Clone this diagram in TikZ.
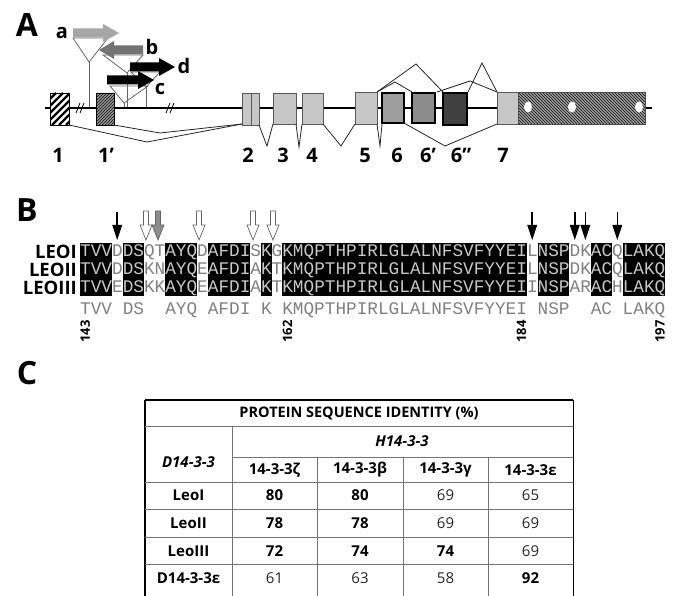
\documentclass[tikz,border=0pt]{standalone}
\usepackage{fontspec}
\setmainfont{Open Sans}
\newfontfamily\seqfont{Liberation Mono}
\colorlet{inbox}{black!22}
\colorlet{outbox}{black!50}
\colorlet{exlight}{black!22}
\newcommand\Ib[1]{\textcolor{inbox}{#1}}
\newcommand\Ob[1]{\textcolor{outbox}{#1}}
\newcommand\blnk{\phantom{X}}
\begin{document}
\begin{tikzpicture}[x=1pt,y=-1pt,
  panel/.style={font=\bfseries\fontsize{32}{32}\selectfont, inner sep=0},
  lbl/.style={font=\bfseries\fontsize{20}{20}\selectfont, inner sep=0},
  exonL/.style={draw=black!65, fill=exlight, line width=0.7pt},
  exonD/.style={draw=black, line width=1.6pt},
  splice/.style={draw=black!85, line width=0.8pt},
  stalk/.style={draw=black!60, line width=0.8pt},
  seqrow/.style={font=\seqfont\fontsize{17.73}{17.73}\selectfont, inner sep=0, anchor=base west},
  rowlbl/.style={font=\bfseries\fontsize{18.5}{18.5}\selectfont, inner sep=0, anchor=east},
  posnum/.style={font=\bfseries\fontsize{13}{13}\selectfont, inner sep=0, rotate=90, anchor=east},
  blackarr/.style={fill=black},
  openarr/.style={draw=black!60, line width=0.7pt, fill=white},
  tline/.style={draw=black!55, line width=0.8pt},
  tcell/.style={font=\fontsize{15}{15}\selectfont, inner sep=0, text=black!85},
  tbold/.style={font=\bfseries\fontsize{15}{15}\selectfont, inner sep=0}
]
\useasboundingbox (0,0) rectangle (678,596);

%%%%%%%%%%%%%%%% Panel A
\node[panel] (pA) at (27,25) {A};

% main line
\draw[line width=2.6pt] (45,108) -- (96,108);
\draw[line width=1.5pt] (114,108) -- (192,108);
\draw[line width=2.6pt] (192,108) -- (652,108);
% breaks
\draw[line width=0.8pt] (76,113) -- (80,103) (80,113) -- (84,103);
\draw[line width=0.8pt] (166,113) -- (170,103) (170,113) -- (174,103);

% exon 1 (coarse hatch)
\begin{scope}
  \clip (50,93) rectangle (69,125);
  \fill[white] (50,93) rectangle (69,125);
  \foreach \k in {-40,-33,...,30} \draw[line width=2.4pt] (50+\k,125) -- (82+\k,93);
\end{scope}
\draw[line width=0.7pt] (50,93) rectangle (69,125);

% exon 1' (fine hatch)
\begin{scope}
  \clip (96,93) rectangle (114,125);
  \fill[black!35] (96,93) rectangle (114,125);
  \foreach \k in {-36,-33,...,20} \draw[line width=0.9pt, black!85] (96+\k,125) -- (128+\k,93);
\end{scope}
\draw[line width=0.7pt] (96,93) rectangle (114,125);

% light exons
\draw[exonL] (242,93) rectangle (259,125);
\draw[exonL] (251,93) -- (251,125);
\draw[exonL] (273,93) rectangle (296,124);
\draw[exonL] (302,93) rectangle (323,124);
\draw[exonL] (355,92) rectangle (377,124);
\draw[exonL] (497,92) rectangle (518,124);
% dark exons
\draw[exonD, fill=black!38] (382,93) rectangle (404,123);
\draw[exonD, fill=black!45] (412,93) rectangle (435,123);
\draw[exonD, fill=black!75] (443,93) rectangle (467,125);

% 3' UTR
\begin{scope}
  \clip (518,92) rectangle (645,124);
  \fill[black!30] (518,92) rectangle (645,124);
  \foreach \k in {-36,-33,...,130} \draw[line width=0.9pt, black!85] (518+\k,92) -- (550+\k,124);
\end{scope}
\draw[line width=0.7pt, black!70] (518,92) rectangle (645,124);
\fill[white] (528,107) ellipse [x radius=4, y radius=5.5];
\fill[white] (572,107) ellipse [x radius=4, y radius=5.5];
\fill[white] (639,107) ellipse [x radius=4, y radius=5.5];

% splicing
\draw[splice] (69,125) -- (147,142) -- (242,124);
\draw[splice] (114,125) -- (160,133) -- (242,124);
\draw[splice] (259,125) -- (267,146) -- (273,124);
\draw[splice] (296,124) -- (299,147) -- (302,124);
\draw[splice] (323,124) -- (341,146) -- (355,124);
\draw[splice] (377,124) -- (380,146) -- (382,124);
\draw[splice] (404,123) -- (445,146) -- (497,124);
\draw[splice] (377,92) -- (416,64) -- (443,92);
\draw[splice] (377,92) -- (395,82) -- (412,92);
\draw[splice] (437,92) -- (470,81) -- (497,92);
\draw[splice] (468,92) -- (482,63) -- (497,92);

% promoters: triangles and stalks
\draw[stalk] (73,38) -- (108,38) -- (89,62) -- cycle;
\draw[stalk] (89,62) -- (89,107);
\draw[stalk] (103,55) -- (143,55) -- (127,73) -- cycle;
\draw[stalk] (127,73) -- (127,107);
\draw[stalk] (131,72) -- (160,72) -- (146,87) -- cycle;
\draw[stalk] (146,87) -- (146,107);
\draw[stalk] (110,86) -- (148,86) -- (124,103) -- cycle;
\draw[stalk] (124,103) -- (124,107);

% promoter arrows
\fill[black!35] (73,28.5) -- (103,28.5) -- (103,24) -- (119,33) -- (103,42) -- (103,37.5) -- (73,37.5) -- cycle;
\fill[black!55] (143,45.5) -- (114,45.5) -- (114,41) -- (99,50) -- (114,59) -- (114,54.5) -- (143,54.5) -- cycle;
\fill[black] (130,62.5) -- (159,62.5) -- (159,58) -- (175,67) -- (159,76) -- (159,71.5) -- (130,71.5) -- cycle;
\fill[black] (107,75.5) -- (138,75.5) -- (138,71) -- (154,80) -- (138,89) -- (138,84.5) -- (107,84.5) -- cycle;

\node[lbl] (la) at (62,33) {a};
\node[lbl] (lb) at (152,47) {b};
\node[lbl] (ld) at (184,66) {d};
\node[lbl] (lc) at (160,89) {c};

% exon labels
\node[lbl] (e1) at (58,155) {1};
\node[lbl] (e1p) at (106,155) {1’};
\node[lbl] (e2) at (248,155) {2};
\node[lbl] (e3) at (283,155) {3};
\node[lbl] (e4) at (312,155) {4};
\node[lbl] (e5) at (365,155) {5};
\node[lbl] (e6) at (397,155) {6};
\node[lbl] (e6p) at (428,155) {6’};
\node[lbl] (e6pp) at (461,155) {6”};
\node[lbl] (e7) at (503,155) {7};

%%%%%%%%%%%%%%%% Panel B
\node[panel] (pB) at (27,210) {B};

% conserved blocks
\foreach \a/\b in {1/3,5/6,9/11,13/16,18/18,20/42,44/46,49/50,52/55}
  \fill[black] ({80+(\a-1)*10.64},243) rectangle ({80+\b*10.64},296);

% marker arrows
\foreach \p in {4,43,47,48,51} {
  \draw[line width=1.5pt] ({80+(\p-0.5)*10.64},212) -- ({80+(\p-0.5)*10.64},228);
  \fill[blackarr] ({80+(\p-0.5)*10.64-5},225) -- ({80+(\p-0.5)*10.64+5},225) -- ({80+(\p-0.5)*10.64},240) -- cycle;
}
\foreach \x/\f in {146/white,158/black!45,199/white,253/white,273/white}
  \draw[openarr, fill=\f] ({\x-2.5},211) -- ({\x+2.5},211) -- ({\x+2.5},225) -- ({\x+6},225) -- (\x,240) -- ({\x-6},225) -- ({\x-2.5},225) -- cycle;

% row labels
\node[rowlbl] (r1) at (77,252) {LEOI};
\node[rowlbl] (r2) at (77,270) {LEOII};
\node[rowlbl] (r3) at (77,287.5) {LEOIII};

% sequences
\node[seqrow] (s1) at (80,257) {\Ib{TVV}\Ob{D}\Ib{DS}\Ob{QT}\Ib{AYQ}\Ob{D}\Ib{AFDI}\Ob{S}\Ib{K}\Ob{G}\Ib{KMQPTHPIRLGLALNFSVFYYEI}\Ob{L}\Ib{NSP}\Ob{DK}\Ib{AC}\Ob{Q}\Ib{LAKQ}};
\node[seqrow] (s2) at (80,275) {\Ib{TVV}\Ob{D}\Ib{DS}\Ob{KN}\Ib{AYQ}\Ob{E}\Ib{AFDI}\Ob{A}\Ib{K}\Ob{T}\Ib{KMQPTHPIRLGLALNFSVFYYEI}\Ob{L}\Ib{NSP}\Ob{DK}\Ib{AC}\Ob{Q}\Ib{LAKQ}};
\node[seqrow] (s3) at (80,292.5) {\Ib{TVV}\Ob{E}\Ib{DS}\Ob{KK}\Ib{AYQ}\Ob{E}\Ib{AFDI}\Ob{A}\Ib{K}\Ob{T}\Ib{KMQPTHPIRLGLALNFSVFYYEI}\Ob{I}\Ib{NSP}\Ob{AR}\Ib{AC}\Ob{H}\Ib{LAKQ}};
\node[seqrow, text=outbox] (s4) at (80,315) {TVV\blnk DS\blnk\blnk AYQ\blnk AFDI\blnk K\blnk KMQPTHPIRLGLALNFSVFYYEI\blnk NSP\blnk\blnk AC\blnk LAKQ};

% position numbers
\node[posnum] (n143) at (85.3,320) {143};
\node[posnum] (n162) at (287.5,320) {162};
\node[posnum] (n184) at (521.6,320) {184};
\node[posnum] (n197) at (659.9,320) {197};

%%%%%%%%%%%%%%%% Panel C
\node[panel] (pC) at (27,373) {C};

\draw[line width=1.6pt] (145,400) -- (573,400);
\draw[line width=2pt] (145,400) -- (145,596);
\draw[line width=1pt] (573,400) -- (573,596);
\draw[tline] (145,426) -- (573,426);
\draw[tline] (232,457) -- (573,457);
\foreach \yy in {482,509,537,564} \draw[tline] (145,\yy) -- (573,\yy);
\draw[tline] (232,426) -- (232,596);
\foreach \xx in {317,403,488} \draw[tline] (\xx,457) -- (\xx,596);

\node[font=\bfseries\fontsize{14.5}{14.5}\selectfont, inner sep=0] (title) at (359,413) {PROTEIN SEQUENCE IDENTITY (\%)};
\node[font=\bfseries\itshape\fontsize{15}{15}\selectfont, inner sep=0] (h14) at (402,441) {H14-3-3};
\node[font=\bfseries\itshape\fontsize{15}{15}\selectfont, inner sep=0] (d14) at (188.5,462) {D14-3-3};

\node[tbold] (c1) at (274.5,470) {14-3-3ζ};
\node[tbold] (c2) at (360,470) {14-3-3β};
\node[tbold] (c3) at (445.5,470) {14-3-3γ};
\node[tbold] (c4) at (530.5,470) {14-3-3ε};

\node[tbold] (ra) at (188.5,495) {LeoI};
\node[tbold] (rb) at (188.5,523) {LeoII};
\node[tbold] (rc) at (188.5,551) {LeoIII};
\node[tbold] (rd) at (188.5,578) {D14-3-3ε};

\node[tbold] (v11) at (274.5,495) {80};
\node[tbold] (v12) at (360,495) {80};
\node[tcell] (v13) at (445.5,495) {69};
\node[tcell] (v14) at (530.5,495) {65};
\node[tbold] (v21) at (274.5,523) {78};
\node[tbold] (v22) at (360,523) {78};
\node[tcell] (v23) at (445.5,523) {69};
\node[tcell] (v24) at (530.5,523) {69};
\node[tbold] (v31) at (274.5,551) {72};
\node[tbold] (v32) at (360,551) {74};
\node[tbold] (v33) at (445.5,551) {74};
\node[tcell] (v34) at (530.5,551) {69};
\node[tcell] (v41) at (274.5,578) {61};
\node[tcell] (v42) at (360,578) {63};
\node[tcell] (v43) at (445.5,578) {58};
\node[tbold] (v44) at (530.5,578) {92};
\end{tikzpicture}
\end{document}
